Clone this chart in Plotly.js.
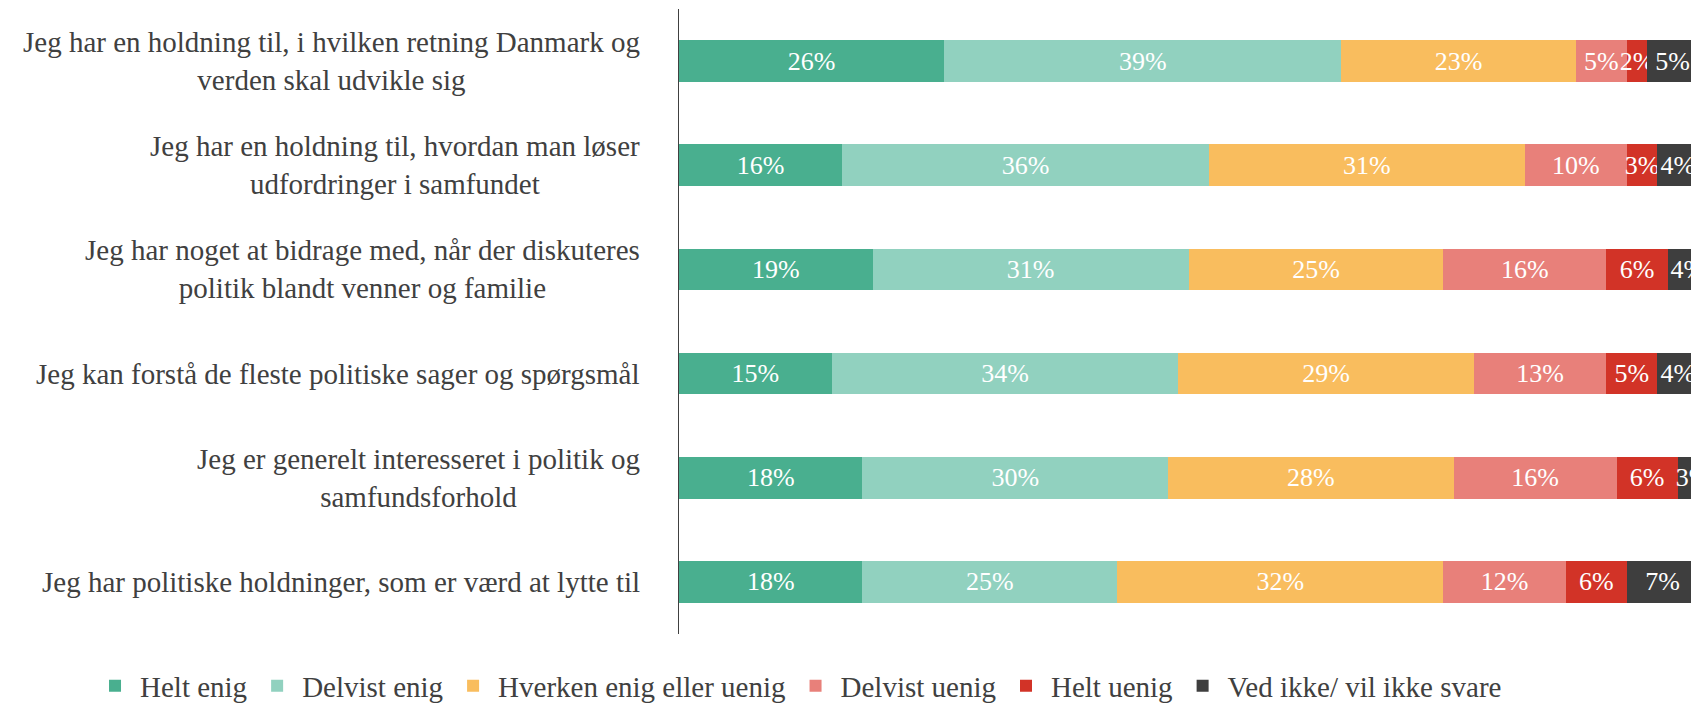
<!DOCTYPE html>
<html>
<head>
<meta charset="utf-8">
<script src="https://cdn.plot.ly/plotly-3.0.1.min.js"></script>
<style>html,body{margin:0;padding:0;background:#fff;}#chart{width:1691px;height:705px;}</style>
</head>
<body>
<div id="chart"></div>
<script>
const categories = [
  "Jeg har en holdning til, i hvilken retning Danmark og<br>verden skal udvikle sig",
  "Jeg har en holdning til, hvordan man løser<br>udfordringer i samfundet",
  "Jeg har noget at bidrage med, når der diskuteres<br>politik blandt venner og familie",
  "Jeg kan forstå de fleste politiske sager og spørgsmål",
  "Jeg er generelt interesseret i politik og<br>samfundsforhold",
  "Jeg har politiske holdninger, som er værd at lytte til"
];
const seriesNames = ["Helt enig", "Delvist enig", "Hverken enig eller uenig", "Delvist uenig", "Helt uenig", "Ved ikke/ vil ikke svare"];
const heltEnig     = [26, 16, 19, 15, 18, 18];
const delvistEnig  = [39, 36, 31, 34, 30, 25];
const hverken      = [23, 31, 25, 29, 28, 32];
const delvistUenig = [5, 10, 16, 13, 16, 12];
const heltUenig    = [2, 3, 6, 5, 6, 6];
const vedIkke      = [5, 4, 4, 4, 3, 7];

const seriesValues = [heltEnig, delvistEnig, hverken, delvistUenig, heltUenig, vedIkke];
const colors = ["#49AF8F", "#91D1BF", "#F9BD5E", "#E8807A", "#D23327", "#3E3E3E"];
const FONT = "Liberation Serif, Times New Roman, serif";

const ids = categories.map((c, i) => "c" + i);

const traces = seriesValues.map((vals, k) => ({
  type: "bar",
  orientation: "h",
  name: seriesNames[k],
  y: ids,
  x: vals,
  text: vals.map(v => v + "%"),
  textposition: "inside",
  insidetextanchor: "middle",
  textangle: 0,
  constraintext: "none",
  textfont: {family: FONT, size: 26, color: "#ffffff"},
  marker: {color: colors[k], line: {width: 0}},
  hoverinfo: "skip"
}));

const annotations = categories.map((c, i) => ({
  xref: "paper", yref: "y",
  x: -0.0366, y: ids[i],
  xanchor: "right", yanchor: "middle",
  align: "center",
  text: c,
  showarrow: false,
  font: {family: FONT, size: 29, color: "#404040"}
}));

const layout = {
  width: 1691, height: 705,
  margin: {l: 679, r: 0, t: 9, b: 71, pad: 0, autoexpand: false},
  paper_bgcolor: "#ffffff", plot_bgcolor: "#ffffff",
  barmode: "stack",
  bargap: 0.6,
  showlegend: true,
  xaxis: {range: [0, 99.3], showgrid: false, zeroline: false, showticklabels: false, showline: false, fixedrange: true},
  yaxis: {type: "category", range: [5.5, -0.5], showgrid: false, zeroline: false, showticklabels: false,
          showline: true, linecolor: "#404040", linewidth: 1, ticks: "", fixedrange: true},
  legend: {orientation: "h", x: -0.582, xanchor: "left", y: -0.083, yanchor: "middle",
           bgcolor: "rgba(0,0,0,0)",
           font: {family: FONT, size: 29, color: "#404040"}, traceorder: "normal", itemwidth: 40},
  annotations: annotations
};

Plotly.newPlot("chart", traces, layout, {displayModeBar: false, staticPlot: true});
</script>
</body>
</html>
